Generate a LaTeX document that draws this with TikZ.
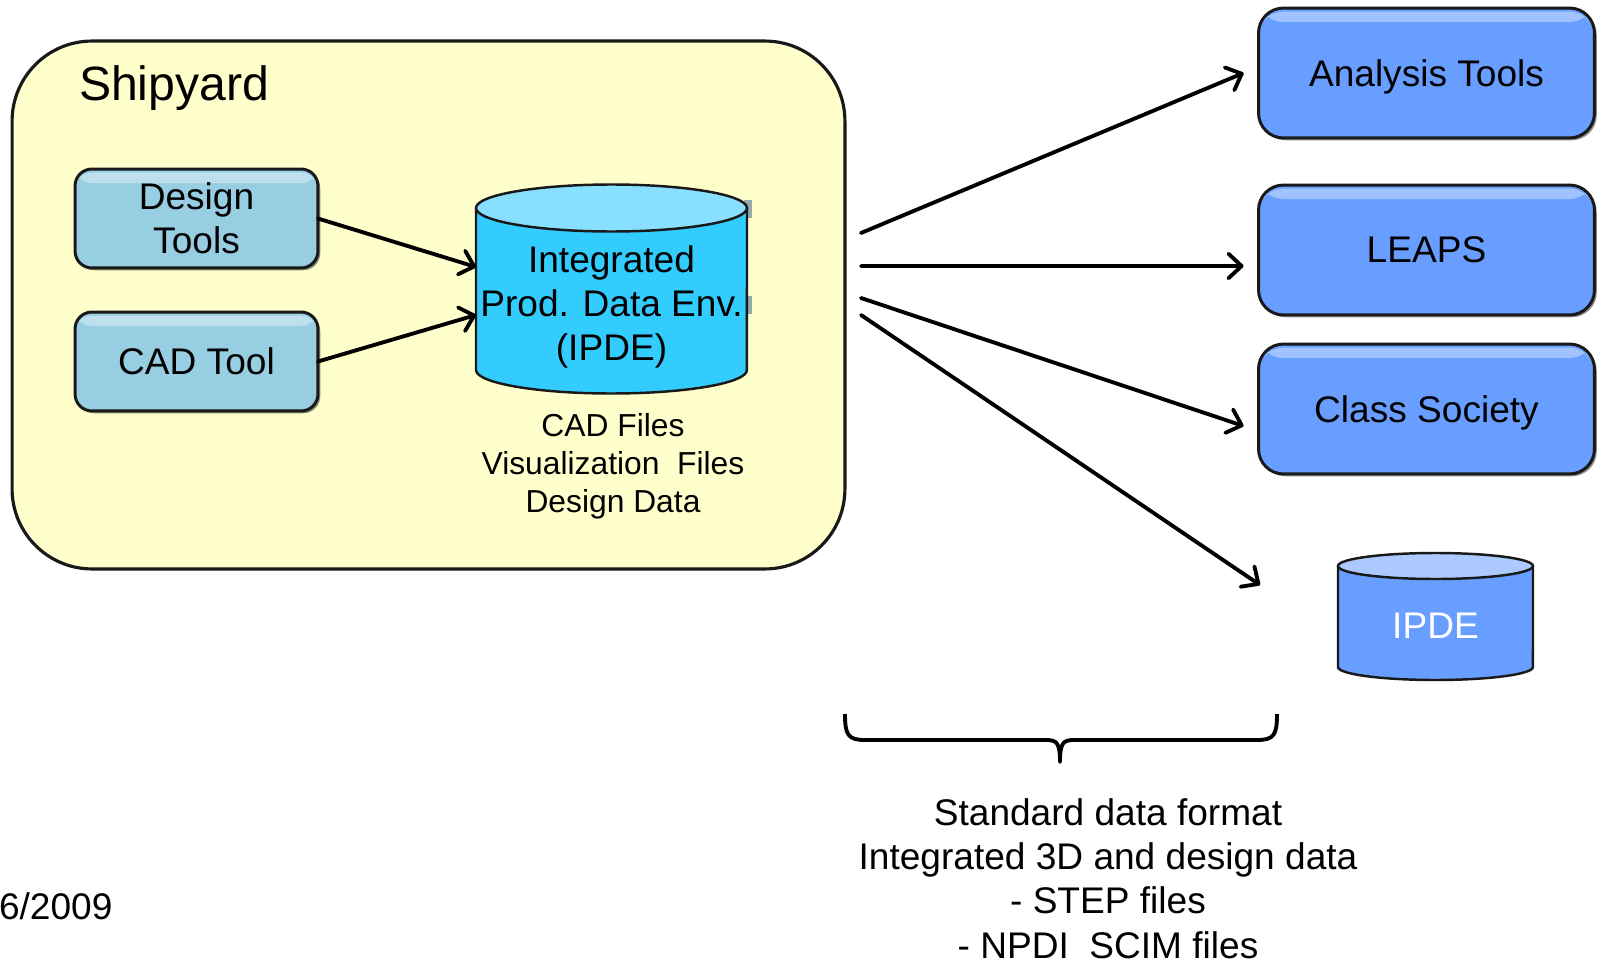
\documentclass[tikz,border=0pt]{standalone}
\usepackage{fontspec}
\setmainfont{Liberation Sans}
\usetikzlibrary{arrows.meta,shadows}

\definecolor{yardfill}{RGB}{255,255,204}
\definecolor{toolfill}{RGB}{152,206,226}
\definecolor{dbbody}{RGB}{51,204,255}
\definecolor{dbtop}{RGB}{136,223,255}
\definecolor{extfill}{RGB}{104,158,255}
\definecolor{exttop}{RGB}{172,202,255}
\definecolor{edge}{RGB}{25,25,25}
\definecolor{tabgray}{RGB}{150,170,170}

\tikzset{
  every node/.style={inner sep=0pt, outer sep=0pt},
  txt/.style={font=\fontsize{21.1}{25.2}\selectfont, align=center},
  smalltxt/.style={font=\fontsize{18.1}{21.6}\selectfont, align=center},
  gloss/.style={path picture={\shade[top color=white!40!#1, bottom color=#1]
      ([yshift=-2pt]path picture bounding box.north west) rectangle
      ([yshift=-8pt]path picture bounding box.north east);}},
  softshadow/.style={drop shadow={shadow xshift=1.3pt, shadow yshift=-1.3pt, fill=black, opacity=0.45}},
  toolbox/.style={draw=edge, line width=1.7pt, fill=toolfill, rounded corners=0.34cm,
      minimum width=4.86cm, minimum height=1.98cm, txt, gloss=toolfill, softshadow},
  extbox/.style={draw=edge, line width=1.7pt, fill=extfill, rounded corners=0.5cm,
      minimum width=6.72cm, minimum height=2.6cm, txt, text depth=0pt, gloss=extfill, softshadow},
  flow/.style={line width=2.2pt, draw=black, line cap=round,
      -{Straight Barb[length=7.5pt,width=14pt,round]}},
  dbline/.style={draw=edge, line width=1.4pt},
}

\begin{document}
\begin{tikzpicture}[x=0.02cm,y=-0.02cm]
  \clip (0,0) rectangle (1597,960);
  \fill[white] (0,0) rectangle (1597,960);

  % shipyard container
  \node[draw=edge, line width=1.8pt, fill=yardfill, rounded corners=1.6cm,
        minimum width=16.66cm, minimum height=10.56cm] (yard) at (428.5,305) {};
  \node[anchor=west, font=\fontsize{27.4}{32}\selectfont] (yardlabel) at (79,88) {Shipyard};

  % tools inside the shipyard
  \node[toolbox] (design) at (196.5,218.5) {Design\\Tools};
  \node[toolbox, text depth=0pt] (cad) at (196.5,361.5) {CAD Tool};

  % small tabs peeking out behind the database
  \fill[tabgray] (744,200) rectangle (752,218);
  \fill[tabgray] (744,296) rectangle (752,314);

  % integrated product data environment (cylinder)
  \fill[dbbody] (476,208) -- (476,370)
      arc[start angle=180, end angle=360, x radius=2.71cm, y radius=0.47cm]
      -- (747,208)
      arc[start angle=0, end angle=180, x radius=2.71cm, y radius=0.47cm] -- cycle;
  \draw[dbline] (476,208) -- (476,370)
      arc[start angle=180, end angle=360, x radius=2.71cm, y radius=0.47cm]
      -- (747,208);
  \draw[dbline, fill=dbtop] (611.5,208) ellipse[x radius=2.71cm, y radius=0.47cm];
  \node[minimum width=5.42cm, minimum height=3.24cm] (ipde) at (611.5,289) {};
  \node[txt] (ipdetext) at (611.5,307) {Integrated\\Prod. Data Env.\\(IPDE)};
  \node[smalltxt] (files) at (613,466) {CAD Files\\Visualization~ Files\\Design Data};

  % external consumers
  \node[extbox] (analysis) at (1426.5,73) {Analysis Tools};
  \node[extbox] (leaps) at (1426.5,250) {LEAPS};
  \node[extbox] (class) at (1426.5,409) {Class Society};

  % external IPDE cylinder
  \fill[extfill] (1338,566) -- (1338,667)
      arc[start angle=180, end angle=360, x radius=1.95cm, y radius=0.26cm]
      -- (1533,566)
      arc[start angle=0, end angle=180, x radius=1.95cm, y radius=0.26cm] -- cycle;
  \draw[dbline] (1338,566) -- (1338,667)
      arc[start angle=180, end angle=360, x radius=1.95cm, y radius=0.26cm]
      -- (1533,566);
  \draw[dbline, fill=exttop] (1435.5,566) ellipse[x radius=1.95cm, y radius=0.26cm];
  \node[minimum width=3.9cm, minimum height=2.02cm] (ipdeb) at (1435.5,616) {};
  \node[txt, text=white, text depth=0pt] (ipdebtext) at (1435.5,626) {IPDE};

  % flows into the shipyard database
  \draw[flow] (design.east) -- ([yshift=0.44cm]ipde.west);
  \draw[flow] (cad.east) -- ([yshift=-0.52cm]ipde.west);

  % flows out of the shipyard
  \coordinate (o1) at (861,233);
  \coordinate (o2) at (861,266);
  \coordinate (o3) at (861,298);
  \coordinate (o4) at (861,315);
  \draw[flow] (o1) -- ([xshift=-0.3cm]analysis.west);
  \draw[flow] (o2) -- ([xshift=-0.3cm,yshift=-0.32cm]leaps.west);
  \draw[flow] (o3) -- ([xshift=-0.3cm,yshift=-0.34cm]class.west);
  \draw[flow] (o4) -- ([xshift=-1.56cm,yshift=0.62cm]ipdeb.west);

  % brace over the exchange formats
  \draw[line width=2.2pt, line join=round]
    (845,714) .. controls (845,735) and (848,740) .. (865,740)
    -- (1046,740) .. controls (1057,740) and (1060,743) .. (1060,762)
    .. controls (1060,743) and (1063,740) .. (1074,740)
    -- (1257,740) .. controls (1274,740) and (1277,735) .. (1277,714);

  \node[txt] (std) at (1108,878.5) {Standard data format\\Integrated 3D and design data\\- STEP files\\- NPDI~ SCIM files};

  \node[anchor=west, txt] (date) at (-1,906) {6/2009};
\end{tikzpicture}
\end{document}
